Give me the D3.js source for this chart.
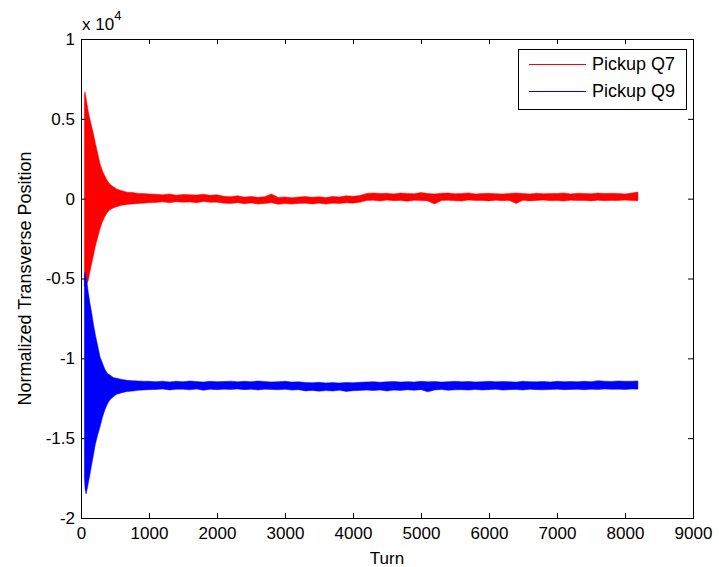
<!DOCTYPE html>
<html>
<head>
<meta charset="utf-8">
<script src="https://cdn.jsdelivr.net/npm/d3@7"></script>
<style>
  html, body { margin: 0; padding: 0; background: #fff; }
  svg text { font-family: Arial, "Liberation Sans", Helvetica, sans-serif; fill: #000; }
</style>
</head>
<body>
<svg id="chart" width="719" height="567"></svg>
<script>
// Sampled turns for the envelope of each pickup's turn-by-turn signal
const turns = [50, 60, 75, 90, 108, 130, 155, 181, 210, 245, 279, 315, 353, 390, 426, 475, 525, 600, 680, 760, 840, 920, 1000,
  1100, 1200, 1300, 1400, 1500, 1600, 1700, 1800, 1900, 2000,
  2100, 2200, 2300, 2400, 2500, 2600, 2700, 2800, 2900, 3000, 3100, 3200, 3300, 3400, 3500, 3600, 3700, 3800, 3900, 4000, 4100,
  4200, 4300, 4400, 4500, 4600, 4700, 4800, 4900, 5000, 5100, 5200, 5300, 5400, 5500, 5600, 5700, 5800, 5900, 6000, 6100,
  6200, 6300, 6400, 6500, 6600, 6700, 6800, 6900, 7000, 7100, 7200, 7300, 7400, 7500, 7600, 7700, 7800, 7900, 8000, 8100, 8190];

// Pickup Q7: upper / lower envelope of the normalized transverse position
const q7High = [6500, 6700, 6300, 5900, 5450, 5000, 4550, 4100, 3500, 2850, 2200, 1750, 1400, 1100, 900, 750, 600, 500, 400, 380, 330, 320, 300,
  280, 240, 300, 220, 260, 250, 230, 280, 210, 240,
  150, 120, 180, 100, 140, 90, 120, 300, 80, 110, 60, 100, 130, 90, 120, 70, 140, 110, 180, 150, 200,
  330, 360, 320, 340, 300, 350, 330, 310, 380, 320, 300, 340, 350, 310, 330, 360, 300, 320, 340, 310,
  300, 330, 350, 320, 300, 340, 310, 330, 320, 360, 300, 340, 330, 310, 350, 320, 340, 330, 300, 350, 420];
const q7Low = [-5500, -5500, -5400, -5300, -5100, -4600, -4100, -3600, -3000, -2450, -1900, -1450, -1100, -850, -700, -580, -500, -420, -360, -330, -300, -280, -260,
  -240, -200, -260, -190, -220, -210, -250, -180, -230, -220,
  -280, -300, -250, -320, -270, -330, -300, -260, -350, -310, -340, -300, -290, -330, -280, -340, -290, -300, -260, -280, -230,
  -120, -100, -150, -90, -130, -110, -160, -100, -120, -140, -330, -110, -100, -130, -150, -90, -120, -110, -140, -100,
  -130, -120, -300, -100, -140, -110, -90, -130, -120, -150, -100, -120, -110, -140, -100, -130, -110, -120, -90, -120, -130];

// Pickup Q9: upper / lower envelope
const q9High = [-4800, -4600, -4900, -5300, -5900, -6500, -7100, -7800, -8500, -9200, -9900, -10300, -10700, -10950, -11050, -11200, -11250, -11320, -11380, -11400, -11420, -11430, -11440,
  -11460, -11430, -11480, -11440, -11470, -11420, -11450, -11490, -11440, -11460,
  -11450, -11430, -11470, -11440, -11460, -11420, -11450, -11480, -11460, -11440, -11490, -11470, -11510, -11530, -11500, -11540, -11520, -11550, -11510, -11530, -11500,
  -11480, -11460, -11500, -11470, -11450, -11490, -11460, -11480, -11440, -11470, -11450, -11490, -11460, -11440, -11470, -11450, -11480, -11460, -11440, -11470,
  -11450, -11460, -11490, -11440, -11460, -11470, -11450, -11480, -11440, -11460, -11450, -11470, -11440, -11460, -11400, -11430, -11450, -11420, -11440, -11430, -11420];
const q9Low = [-17500, -18200, -18500, -18200, -17800, -17300, -16700, -16100, -15400, -14800, -14300, -13700, -13200, -12850, -12600, -12400, -12250, -12150, -12080, -12050, -12000, -11980, -11960,
  -11950, -11920, -11980, -11940, -11930, -11970, -11920, -12000, -11940, -11960,
  -11930, -11950, -11920, -11960, -11940, -11980, -11930, -11950, -11970, -11940, -11990, -11960, -12040, -12010, -12060, -12020, -12050, -12000, -12070, -12030, -12010,
  -11990, -12020, -11980, -12050, -11990, -12010, -11970, -12000, -11960, -12100, -11980, -11950, -12000, -11970, -11960, -11990, -11950, -11980, -11960, -11940,
  -11990, -11960, -11950, -11980, -11940, -11960, -11970, -11950, -11930, -11960, -11950, -11940, -11970, -11930, -11950, -11920, -11940, -11930, -11950, -11920, -11930];

const seriesNames = ["Pickup Q7", "Pickup Q9"];
const seriesColors = ["#ff0000", "#0000ff"];

const xTicks = [0, 1000, 2000, 3000, 4000, 5000, 6000, 7000, 8000, 9000];
const yTicks = [-20000, -15000, -10000, -5000, 0, 5000, 10000];
const yTickLabels = ["-2", "-1.5", "-1", "-0.5", "0", "0.5", "1"];

const svg = d3.select("#chart");
const plotLeft = 81, plotRight = 693, plotTop = 39, plotBottom = 518;

const x = d3.scaleLinear().domain([0, 9000]).range([plotLeft, plotRight]);
const y = d3.scaleLinear().domain([-20000, 10000]).range([plotBottom, plotTop]);

// Signal bands
const bands = [
  { hi: q7High, lo: q7Low, color: seriesColors[0] },
  { hi: q9High, lo: q9Low, color: seriesColors[1] }
];
bands.forEach(b => {
  const rows = turns.map((t, i) => ({ t, hi: b.hi[i], lo: b.lo[i] }));
  const area = d3.area().x(d => x(d.t)).y0(d => y(d.lo)).y1(d => y(d.hi));
  svg.append("path")
    .attr("d", area(rows))
    .attr("fill", b.color)
    .attr("stroke", b.color)
    .attr("stroke-width", 0.5)
    .attr("stroke-linejoin", "miter");
});

// Axes with inward ticks on all four sides
const fontSize = 17;
const gx = svg.append("g").attr("transform", `translate(0,${plotBottom})`)
  .call(d3.axisBottom(x).tickValues(xTicks).tickFormat(d3.format("d")).tickSize(-5).tickPadding(9));
const gxTop = svg.append("g").attr("transform", `translate(0,${plotTop})`)
  .call(d3.axisTop(x).tickValues(xTicks).tickFormat("").tickSize(-5));
const gy = svg.append("g").attr("transform", `translate(${plotLeft},0)`)
  .call(d3.axisLeft(y).tickValues(yTicks).tickFormat((d, i) => yTickLabels[i]).tickSize(-5).tickPadding(6));
const gyRight = svg.append("g").attr("transform", `translate(${plotRight},0)`)
  .call(d3.axisRight(y).tickValues(yTicks).tickFormat("").tickSize(-5));

[gx, gxTop, gy, gyRight].forEach(g => {
  g.select(".domain").remove();
  g.selectAll(".tick line").attr("stroke", "#000").attr("stroke-width", 1);
  g.selectAll(".tick text").attr("font-size", fontSize).attr("fill", "#000")
    .style("font-family", "Arial, 'Liberation Sans', sans-serif");
});
// end ticks coincide with the box edges
[gx, gxTop].forEach(g => g.selectAll(".tick").filter(d => d === 0 || d === 9000).select("line").remove());
[gy, gyRight].forEach(g => g.selectAll(".tick").filter(d => d === -20000 || d === 10000).select("line").remove());

svg.append("rect")
  .attr("x", plotLeft + 0.5).attr("y", plotTop + 0.5)
  .attr("width", plotRight - plotLeft).attr("height", plotBottom - plotTop)
  .attr("fill", "none").attr("stroke", "#000").attr("stroke-width", 1);

// Exponent annotation
const expo = svg.append("text").attr("x", 82).attr("y", 30).attr("font-size", fontSize);
expo.append("tspan").text("x 10");
expo.append("tspan").attr("font-size", 13).attr("dy", -10).text("4");

// Axis titles
svg.append("text")
  .attr("x", (plotLeft + plotRight) / 2).attr("y", 564)
  .attr("text-anchor", "middle").attr("font-size", fontSize)
  .text("Turn");
svg.append("text")
  .attr("transform", `translate(31,${(plotTop + plotBottom) / 2}) rotate(-90)`)
  .attr("text-anchor", "middle").attr("font-size", 18)
  .text("Normalized Transverse Position");

// Legend
const lg = svg.append("g");
lg.append("rect")
  .attr("x", 518.5).attr("y", 49.5).attr("width", 168).attr("height", 60)
  .attr("fill", "#fff").attr("stroke", "#000").attr("stroke-width", 1);
seriesNames.forEach((name, i) => {
  const ly = 64 + i * 27;
  lg.append("line")
    .attr("x1", 529).attr("x2", 586).attr("y1", ly + 0.5).attr("y2", ly + 0.5)
    .attr("stroke", seriesColors[i]).attr("stroke-width", 1.2);
  lg.append("text")
    .attr("x", 592).attr("y", ly).attr("dy", "0.35em")
    .attr("font-size", 18).attr("fill", "#222")
    .text(name);
});
</script>
</body>
</html>
